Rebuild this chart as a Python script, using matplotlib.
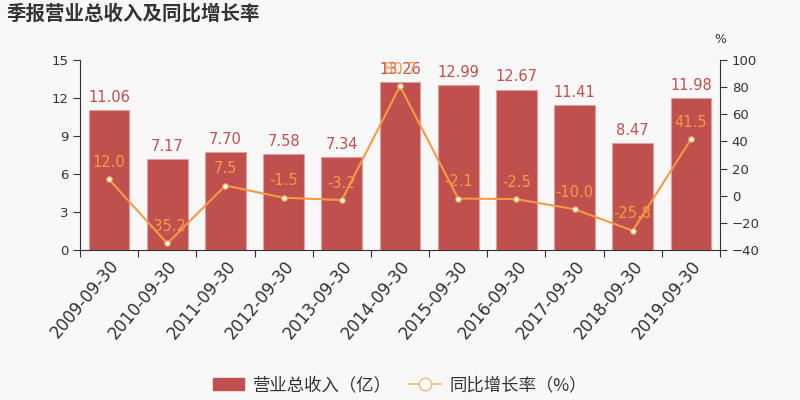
import matplotlib
matplotlib.use("Agg")
import matplotlib.pyplot as plt
from matplotlib.lines import Line2D
from matplotlib.patches import Patch
import numpy as np

plt.rcParams['font.family'] = ['Noto Sans CJK SC', 'DejaVu Sans']

dates = ["2009-09-30", "2010-09-30", "2011-09-30", "2012-09-30", "2013-09-30",
         "2014-09-30", "2015-09-30", "2016-09-30", "2017-09-30", "2018-09-30",
         "2019-09-30"]
revenue = [11.06, 7.17, 7.70, 7.58, 7.34, 13.26, 12.99, 12.67, 11.41, 8.47, 11.98]
growth = [12.0, -35.2, 7.5, -1.5, -3.2, 80.7, -2.1, -2.5, -10.0, -25.8, 41.5]

bg = "#f8f8f8"
bar_color = "#c0504d"
line_color = "#f59a45"
text_color = "#333333"

fig = plt.figure(figsize=(8, 4), dpi=100, facecolor=bg)
ax = fig.add_axes([0.1, 0.375, 0.8, 0.475])
ax.set_facecolor(bg)
x = np.arange(len(dates))

ax.bar(x, revenue, width=0.7, color=bar_color, edgecolor="#e0a0a0", linewidth=0.8, zorder=2)
for xi, v in zip(x, revenue):
    ax.text(xi, v + 0.4, f"{v:.2f}", ha="center", va="bottom", color=bar_color, fontsize=10.5,
            family="DejaVu Sans")
ax.set_ylim(0, 15)
ax.set_yticks([0, 3, 6, 9, 12, 15])
ax.set_xlim(-0.5, len(dates) - 0.5)
ax.set_xticks(np.arange(-0.5, len(dates), 1), minor=False)
ax.set_xticklabels([])
ax.set_xticks(x, minor=True)
ax.set_xticklabels(dates, minor=True, rotation=50, ha="right", rotation_mode="anchor",
                   fontsize=12, color=text_color, family="DejaVu Sans")
ax.tick_params(axis="x", which="minor", length=0, pad=5)
ax.tick_params(axis="x", which="major", length=5, color=text_color)
ax.tick_params(axis="y", labelsize=9.5, colors=text_color, length=5)
for lbl in ax.get_yticklabels():
    lbl.set_family("DejaVu Sans")
ax.spines["top"].set_visible(False)
ax.spines["right"].set_visible(False)
for s in ["left", "bottom"]:
    ax.spines[s].set_color(text_color)

ax2 = ax.twinx()
ax2.plot(x, growth, color=line_color, linewidth=1.5, marker="o", markersize=4,
         markerfacecolor="white", markeredgecolor=line_color, markeredgewidth=0.8, zorder=3)
for xi, v in zip(x, growth):
    ax2.text(xi, v + 7, f"{v:.1f}", ha="center", va="bottom", color=line_color, fontsize=10.5,
             family="DejaVu Sans")
ax2.set_ylim(-40, 100)
ax2.set_yticks(range(-40, 101, 20))
ax2.tick_params(axis="y", labelsize=9.5, colors=text_color, length=5)
for lbl in ax2.get_yticklabels():
    lbl.set_family("DejaVu Sans")
ax2.spines["top"].set_visible(False)
ax2.spines["left"].set_visible(False)
ax2.spines["bottom"].set_visible(False)
ax2.spines["right"].set_color(text_color)
ax2.text(1.0, 1.11, "%", transform=ax2.transAxes, ha="center", va="center",
         fontsize=9, color=text_color, family="DejaVu Sans")

fig.text(0.008, 0.965, "季报营业总收入及同比增长率", fontsize=14, fontweight="bold",
         color=text_color, ha="left", va="center")

handles = [Patch(facecolor=bar_color, edgecolor=bar_color),
           Line2D([0], [0], color="#f8b878", marker="o", markersize=9,
                  markerfacecolor="white", markeredgecolor="#f8b878", linewidth=1.2)]
fig.legend(handles, ["营业总收入（亿）", "同比增长率（%）"], loc="center",
           bbox_to_anchor=(0.5, 0.037), ncol=2, frameon=False, fontsize=12.5,
           labelcolor=text_color, handlelength=1.8, handletextpad=0.5, columnspacing=1.0)

fig.savefig("out.png", dpi=100, facecolor=bg)
